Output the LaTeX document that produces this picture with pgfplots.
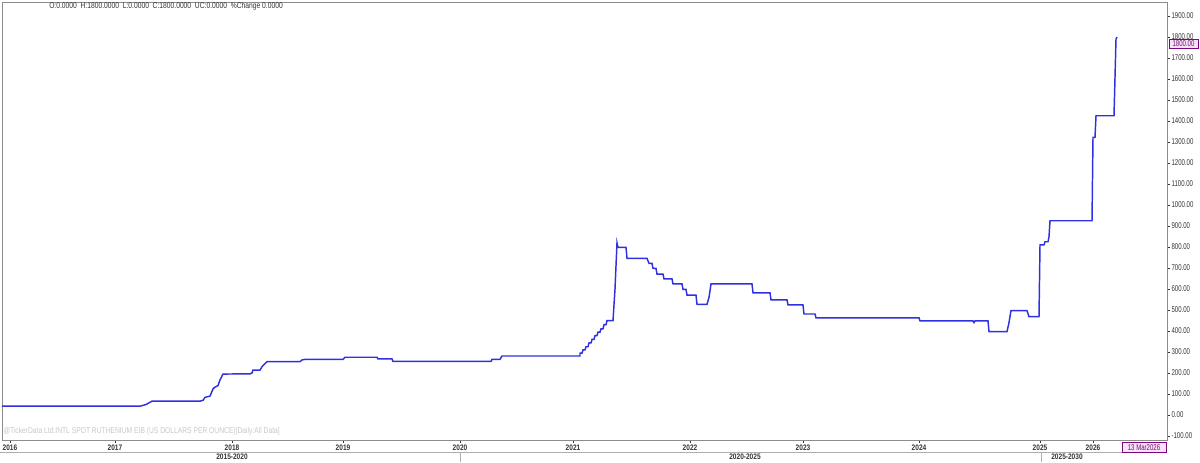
\documentclass[border=0pt]{standalone}
\usepackage{pgfplots}
\pgfplotsset{compat=1.18}
\usepackage{fontspec}
\setmainfont{Liberation Sans}
\newfontfamily\tickfont[FakeStretch=0.72]{Liberation Sans}
\newfontfamily\infofont[FakeStretch=0.8]{Liberation Sans}
\newfontfamily\yearfont[FakeStretch=0.82]{Liberation Sans}
\definecolor{linje}{HTML}{3030E0}
\definecolor{ramme}{HTML}{8C8C8C}
\definecolor{lilla}{HTML}{7A0A7A}
\definecolor{rosa}{HTML}{F6E2F6}
\definecolor{tekst}{HTML}{333333}

% x = pixel column of the source chart, y = price in USD/oz
\begin{document}
\begin{tikzpicture}[x=0.75pt,y=0.75pt]
\useasboundingbox (0,0) rectangle (1200,462);
\begin{axis}[
    at={(1.5pt,16.5pt)}, anchor=south west,
    scale only axis, width=873.75pt, height=328.5pt,
    xmin=2, xmax=1167, ymin=-119.05, ymax=1966.7,
    axis line style={ramme, line width=0.6pt},
    tick style={tekst, line width=0.4pt},
    tick align=outside, major tick length=2.25pt,
    xtick pos=bottom, ytick pos=right, yticklabel pos=right,
    xtick={10,115,232,343,460,573,690,803,919,1040,1093},
    xticklabels={2016,2017,2018,2019,2020,2021,2022,2023,2024,2025,2026},
    xticklabel style={font=\yearfont\bfseries\fontsize{6}{6}\selectfont, text=tekst, inner sep=1pt},
    ytick={-100,0,...,1900},
    yticklabels={-100.00,0.00,100.00,200.00,300.00,400.00,500.00,600.00,700.00,800.00,900.00,1000.00,1100.00,1200.00,1300.00,1400.00,1500.00,1600.00,1700.00,1800.00,1900.00},
    yticklabel style={font=\tickfont\fontsize{6.3}{6.3}\selectfont, text=tekst, anchor=west, inner sep=1pt},
    clip=false,
]
\addplot[linje, line width=1.1pt] coordinates {
(2,42) (140,42) (146,50) (152,66) (200,66) (203,70) (205,84) (210,90) (213,124)
(215,133) (218,140) (220,167) (223,195) (250,196) (252,200) (253,214) (260,214)
(262,230) (267,254) (300,254) (302,262) (305,265) (343,265) (345,275) (377,275)
(378,267) (392,267) (393,255) (491,255) (492,265) (500,265) (502,281) (578,281)
(580,281) (580,295) (582,295) (583,310) (585,310) (586,325) (588,325) (589,343)
(591,343) (592,360) (594,360) (595,378) (597,378) (598,395) (600,395) (601,410)
(603,410) (604,430) (606,430) (607,449) (613,449)
(615,600) (617,820) (618,798) (626,798) (627,746) (647,746) (649,722) (652,722)
(653,698) (656,698) (657,671) (663,671) (664,648) (672,648) (673,624) (682,624)
(683,598) (686,598) (687,571) (696,571) (697,527) (707,527) (709,560) (711,624)
(752,624) (753,582) (770,582) (771,548) (787,548) (788,524) (803,524) (804,481)
(815,481) (816,463) (919,463) (920,448) (973,448) (974,440) (975,448) (988,448)
(989,397) (1007,397) (1009,440) (1011,497) (1027,497) (1029,468) (1039,468)
(1040,810) (1044,810) (1045,825) (1048,825) (1049,849) (1050,925) (1092,925)
(1093,1322) (1095,1322) (1096,1425) (1114,1425) (1116,1790) (1117,1800)
};
\end{axis}
% frame top and lower date rows, in source pixel units
\draw[ramme, line width=0.6pt] (2,460) -- (1167,460);
\draw[ramme!70, line width=0.5pt] (0,10) -- (1122,10);
\draw[ramme!70, line width=0.5pt] (460,0) -- (460,10) (1041,0) -- (1041,10);
\begin{scope}[font=\yearfont\bfseries\fontsize{6}{6}\selectfont, text=tekst]
\node at (232,5.5) {2015-2020};
\node at (745,5.5) {2020-2025};
\node at (1067,5.5) {2025-2030};
\end{scope}
\node[anchor=west, inner sep=0pt, text=tekst, font=\infofont\fontsize{6.3}{6.3}\selectfont] at (49,456) {O:0.0000\ \ H:1800.0000\ \ L:0.0000\ \ C:1800.0000\ \ UC:0.0000\ \ \%Change 0.0000};
\node[anchor=west, inner sep=0pt, text=black!22, font=\infofont\fontsize{6.3}{6.3}\selectfont] at (3,31) {@TickerData Ltd.INTL SPOT RUTHENIUM EIB (US DOLLARS PER OUNCE)[Daily:All Data]};
\draw[lilla, fill=rosa, line width=0.5pt] (1122,9.7) rectangle (1166,19.3);
\node[text=lilla, inner sep=0pt, font=\tickfont\fontsize{6.3}{6.3}\selectfont] at (1144,14.5) {13 Mar2026};
\draw[lilla, fill=rosa, line width=0.5pt] (1169,414) rectangle (1198,423);
\node[text=lilla, inner sep=0pt, font=\tickfont\fontsize{6.3}{6.3}\selectfont] at (1183.5,418.5) {1800.00};
\end{tikzpicture}
\end{document}
